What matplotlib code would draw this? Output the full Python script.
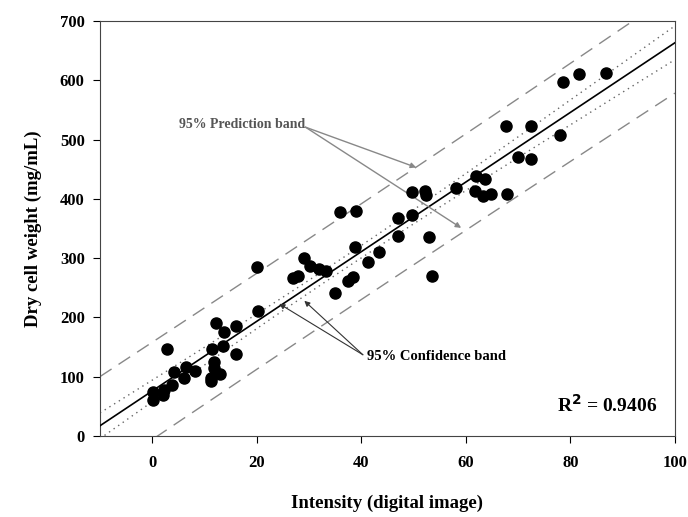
import numpy as np
import matplotlib
matplotlib.use('Agg')
import matplotlib.pyplot as plt

# Intensity (digital image) vs dry cell weight (mg/mL)
intensity = [0.1, 0.1, 2.0, 2.3, 2.9, 3.7, 4.2, 6.0, 6.5, 8.2,
             11.2, 11.2, 11.4, 11.9, 11.9, 13.0, 12.2, 13.5, 13.7, 16.0,
             16.0, 20.0, 20.2, 26.9, 27.8, 29.1, 30.1, 32.0, 33.3, 35.0,
             36.0, 37.4, 38.4, 38.7, 38.9, 41.2, 43.3, 47.0, 47.1, 49.7,
             49.7, 52.2, 52.4, 52.9, 53.6, 58.2, 61.7, 61.9, 63.3, 63.7,
             64.9, 67.6, 67.9, 70.0, 72.4, 72.4, 78.0, 78.6, 81.6, 86.8]
dry_weight = [61, 75, 69, 78, 147, 86, 108, 97, 116, 110,
              92, 97, 147, 124, 114, 104, 190, 152, 175, 185,
              138, 285, 210, 267, 270, 300, 287, 281, 278, 241,
              377, 262, 269, 318, 380, 294, 310, 367, 338, 411,
              372, 413, 406, 335, 270, 419, 413, 438, 404, 434,
              409, 523, 409, 471, 523, 467, 507, 597, 611, 613]

r2_label = 'R$^\\mathbf{2}$ = 0.9406'
T_CRIT = 2.002  # t(0.975, n-2)

x = np.array(intensity)
y = np.array(dry_weight)
n = len(x)
slope, intercept = np.polyfit(x, y, 1)
resid = y - (intercept + slope * x)
s = np.sqrt(np.sum(resid ** 2) / (n - 2))
sxx = np.sum((x - x.mean()) ** 2)

xs = np.linspace(-10, 100, 200)
fit = intercept + slope * xs
conf = T_CRIT * s * np.sqrt(1 / n + (xs - x.mean()) ** 2 / sxx)
pred = T_CRIT * s * np.sqrt(1 + 1 / n + (xs - x.mean()) ** 2 / sxx)

plt.rcParams['font.family'] = ['Liberation Serif', 'DejaVu Serif']
plt.rcParams['font.weight'] = 'bold'

fig = plt.figure(figsize=(6.88, 5.17), dpi=100)
ax = fig.add_axes([0.1453, 0.1567, 0.8357, 0.8027])

ax.plot(xs, fit, color='black', lw=1.2, zorder=3)
ax.plot(xs, fit + conf, color='#666666', lw=1, ls=(0, (1, 3)))
ax.plot(xs, fit - conf, color='#666666', lw=1, ls=(0, (1, 3)))
ax.plot(xs, fit + pred, color='#888888', lw=1, ls=(0, (10, 6)))
ax.plot(xs, fit - pred, color='#888888', lw=1, ls=(0, (10, 6)))
ax.scatter(x, y, s=64, color='black', zorder=4)

ax.set_xlim(-10, 100)
ax.set_ylim(0, 700)
ax.set_xticks([0, 20, 40, 60, 80, 100])
ax.set_yticks([0, 100, 200, 300, 400, 500, 600, 700])
ax.tick_params(direction='out', length=5, labelsize=12, top=False, right=False)
ax.tick_params(axis='x', pad=9)
ax.tick_params(axis='y', pad=6)
for lab in ax.get_xticklabels() + ax.get_yticklabels():
    lab.set_fontweight('bold')
for sp in ax.spines.values():
    sp.set_color('#444444')

ax.set_xlabel('Intensity (digital image)', fontsize=13.5, fontweight='bold', labelpad=17)
ax.set_ylabel('Dry cell weight (mg/mL)', fontsize=13.5, fontweight='bold', labelpad=13)

# annotations
ax.text(5.2, 526, '95% Prediction band', fontsize=10, fontweight='bold',
        color='#555555', va='center', ha='left')
for tip in [(50.5, 453), (59.1, 351)]:
    ax.annotate('', xy=tip, xytext=(29.3, 521),
                arrowprops=dict(arrowstyle='-|>', color='#888888', lw=1,
                                mutation_scale=8, shrinkA=0, shrinkB=0))
ax.text(41.0, 134, '95% Confidence band', fontsize=10.5, fontweight='bold',
        color='black', va='center', ha='left')
for tip in [(24.3, 223), (29.1, 228)]:
    ax.annotate('', xy=tip, xytext=(40.3, 137),
                arrowprops=dict(arrowstyle='-|>', color='#333333', lw=0.8,
                                mutation_scale=8, shrinkA=0, shrinkB=0))

ax.text(87, 52, r2_label, fontsize=14, fontweight='bold', ha='center', va='center')

fig.savefig('out.png', dpi=100)
